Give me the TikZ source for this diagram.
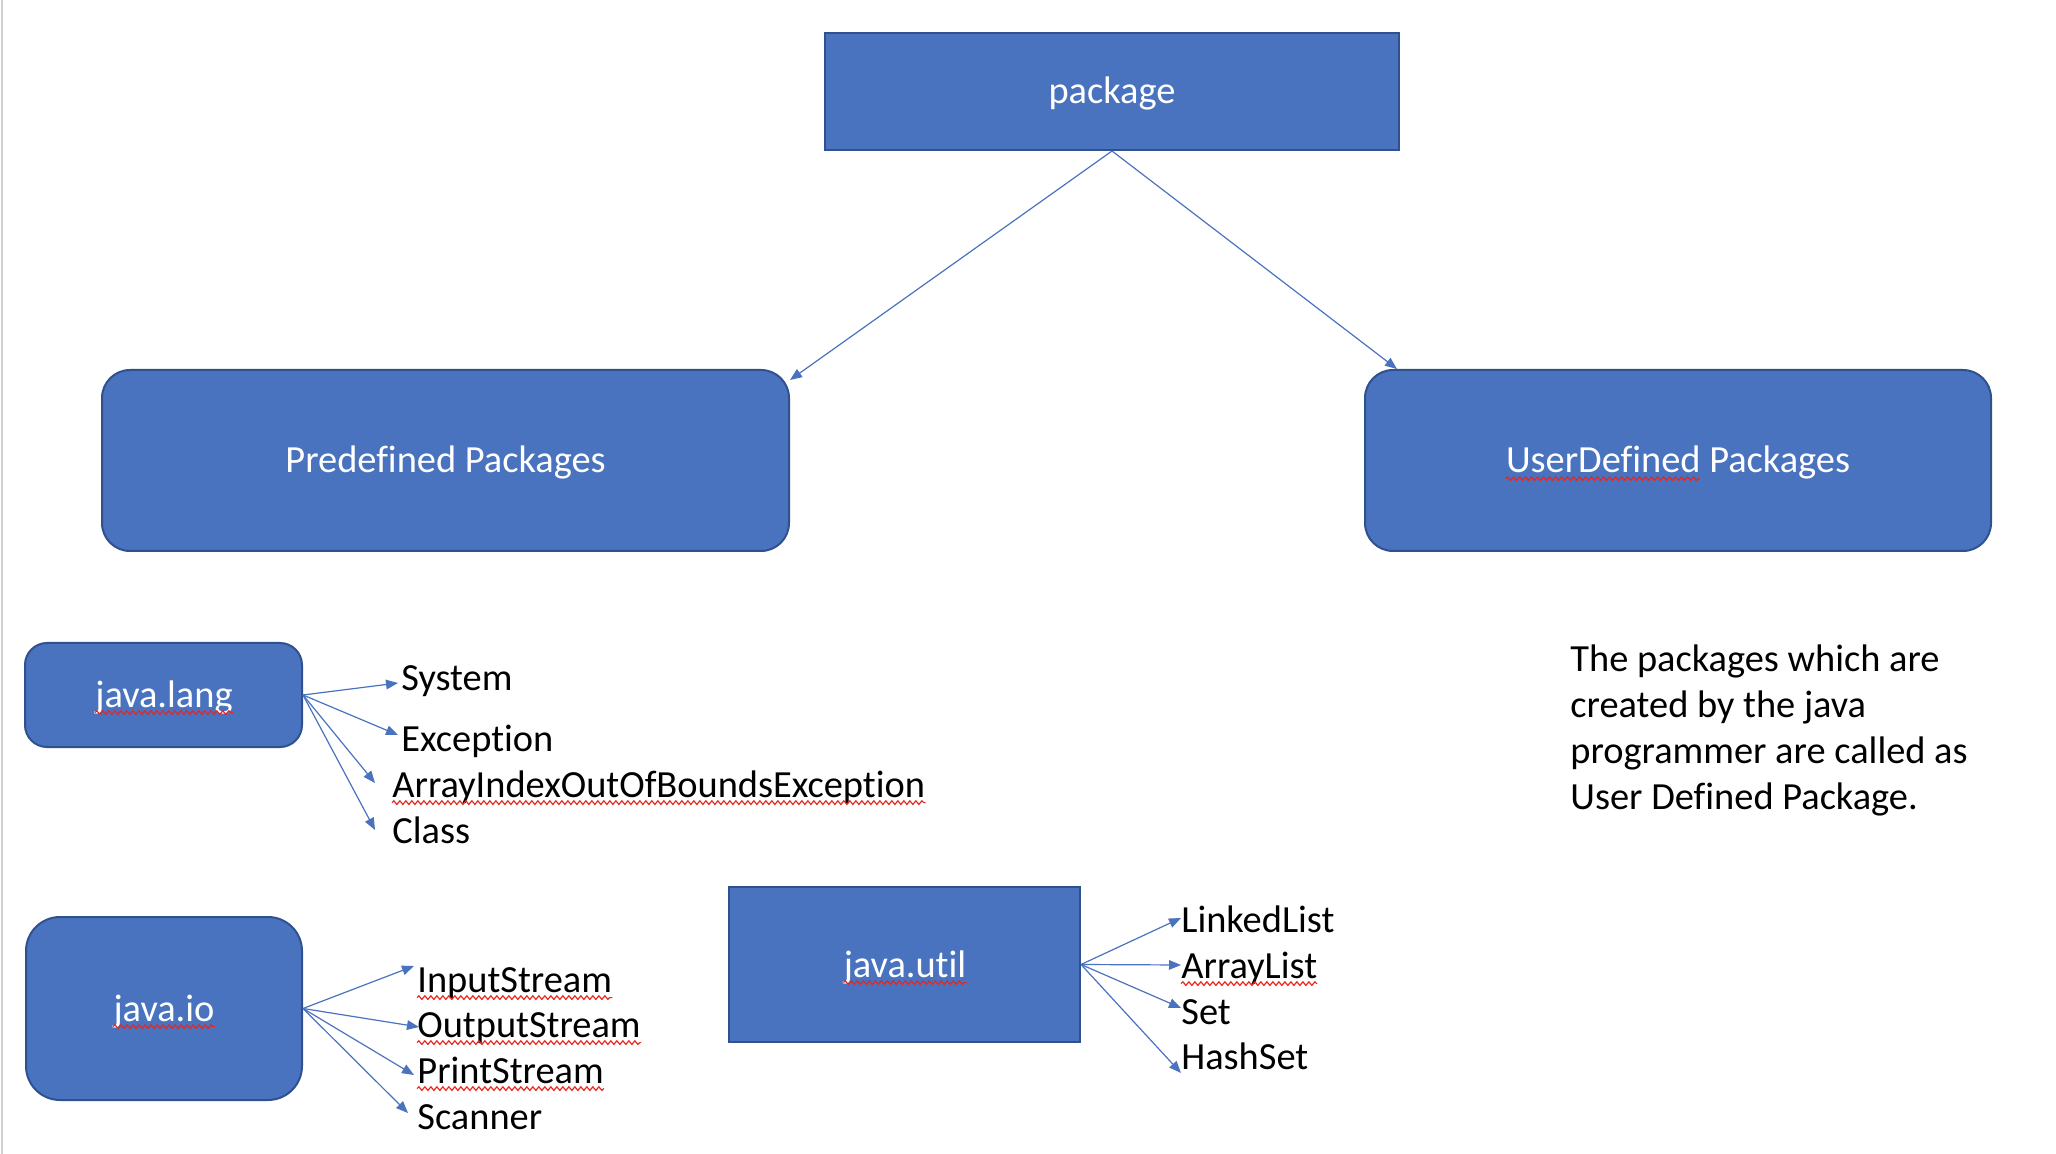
\documentclass[tikz,border=0pt]{standalone}
\usepackage{fontspec}
\setmainfont{Carlito}[Ligatures=NoCommon]
\usetikzlibrary{arrows.meta,decorations.pathmorphing}
\definecolor{boxblue}{HTML}{4A73BF}
\definecolor{boxedge}{HTML}{2F528F}
\definecolor{sqred}{HTML}{E8251F}
\newlength\udw
\begin{document}
\settowidth{\udw}{\fontsize{19.2}{23}\selectfont UserDefined}
\begin{tikzpicture}[x=0.5pt,y=-0.5pt,
  box/.style={fill=boxblue,draw=boxedge,line width=1pt,inner sep=0pt},
  lbl/.style={text=white,font=\fontsize{19.2}{23}\selectfont,inner sep=0pt,anchor=base},
  item/.style={text=black,font=\fontsize{19.2}{23}\selectfont,inner sep=0pt,anchor=base west},
  conn/.style={draw=boxblue,line width=0.6pt,-{Triangle[length=6pt,width=4.8pt]}},
  squig/.style={draw=sqred,line width=0.6pt,decorate,decoration={snake,amplitude=0.9pt,segment length=3pt}}]
\useasboundingbox (0,0) rectangle (2056,1154);
\fill[white] (0,0) rectangle (2056,1154);
\draw[black!18,line width=1pt] (1.5,0) -- (1.5,1154);

% boxes
\node[box,minimum width=287pt,minimum height=58.5pt] (pkg) at (1112,91.5) {};
\node[box,rounded corners=14pt,minimum width=343.5pt,minimum height=90.5pt] (pre) at (445.5,460.5) {};
\node[box,rounded corners=14pt,minimum width=313pt,minimum height=90.5pt] (ud) at (1678,460.5) {};
\node[box,rounded corners=11pt,minimum width=138.5pt,minimum height=52pt] (jl) at (163.5,695) {};
\node[box,rounded corners=17pt,minimum width=138pt,minimum height=91.5pt] (jio) at (164,1008.5) {};
\node[box,minimum width=175.5pt,minimum height=77.5pt] (ju) at (904.5,964.5) {};

% box labels
\node[lbl] (pkgl) at (1112,104) {package};
\node[lbl] (prel) at (445.5,473) {Predefined Packages};
\node[lbl] (udl) at (1678,473) {UserDefined Packages};
\node[lbl] (jll) at (164,707) {java.lang};
\node[lbl] (jiol) at (164,1021) {java.io};
\node[lbl] (jul) at (905,977) {java.util};

% items
\node[item] (sys) at (401,690) {System};
\node[item] (exc) at (401,751) {Exception};
\node[item] (aio) at (392,797) {ArrayIndexOutOfBoundsException};
\node[item] (cls) at (392,843) {Class};
\node[item] (ins) at (417,992) {InputStream};
\node[item] (outs) at (417,1037) {OutputStream};
\node[item] (prs) at (417,1083) {PrintStream};
\node[item] (scn) at (417,1129) {Scanner};
\node[item] (ll) at (1181,932) {LinkedList};
\node[item] (al) at (1181,978) {ArrayList};
\node[item] (set) at (1181,1024) {Set};
\node[item] (hs) at (1181,1069) {HashSet};

\node[item,anchor=north west,align=left] (para) at (1570,644)
  {The packages which are\\created by the java\\programmer are called as\\User Defined Package.};

% arrow tips
\coordinate (tPre) at (790,380);
\coordinate (tUd) at (1397,369);
\coordinate (tSys) at (398,683);
\coordinate (tExc) at (398,735);
\coordinate (tAio) at (375,783);
\coordinate (tCls) at (375,830);
\coordinate (tIn) at (414,966);
\coordinate (tOut) at (419,1027);
\coordinate (tPr) at (414,1075);
\coordinate (tSc) at (408,1113);
\coordinate (tLL) at (1181,918);
\coordinate (tAL) at (1181,965);
\coordinate (tSet) at (1181,1008);
\coordinate (tHS) at (1181,1073);

% connectors
\draw[conn] (pkg.south) -- (tPre);
\draw[conn] (pkg.south) -- (tUd);
\foreach \t in {tSys,tExc,tAio,tCls} \draw[conn] (jl.east) -- (\t);
\foreach \t in {tIn,tOut,tPr,tSc} \draw[conn] (jio.east) -- (\t);
\foreach \t in {tLL,tAL,tSet,tHS} \draw[conn] (ju.east) -- (\t);

% spell-check squiggles
\foreach \n in {jll,jiol,jul,aio,ins,outs,prs,al}
  \draw[squig] ([yshift=-2.8pt]\n.base west) -- ([yshift=-2.8pt]\n.base east);
\draw[squig] ([yshift=-2.8pt]udl.base west) -- ([xshift=\udw,yshift=-2.8pt]udl.base west);
\end{tikzpicture}
\end{document}
